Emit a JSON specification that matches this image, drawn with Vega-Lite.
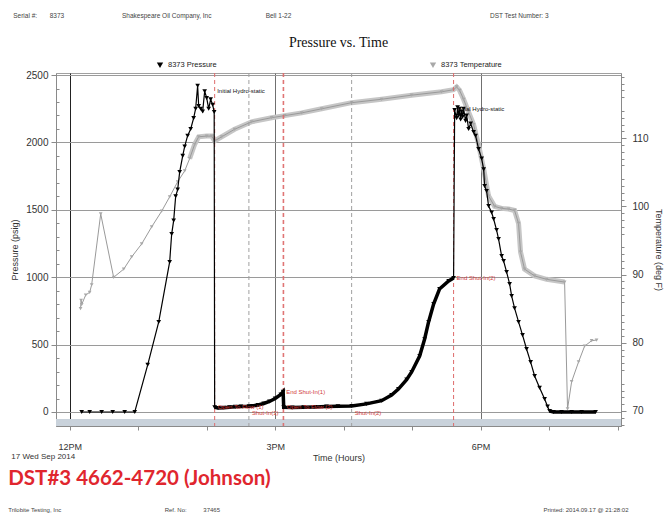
{
  "$schema": "https://vega.github.io/schema/vega-lite/v6.json",
  "background": "white",
  "padding": {"left": 8, "top": 13, "right": 0, "bottom": 0},
  "config": {
    "font": "Liberation Sans",
    "view": {"stroke": "#a0a0a0"},
    "axis": {"labelFont": "Liberation Sans", "titleFont": "Liberation Sans", "labelColor": "#333", "titleColor": "#333", "titleFontWeight": "normal", "domainColor": "#8a8a8a", "tickColor": "#8a8a8a"},
    "concat": {"spacing": 0}
  },
  "datasets": {
    "pressure": [
      {"time": "2014-09-17T12:10:30", "psi": 0, "stage": "running in"},
      {"time": "2014-09-17T12:17:30", "psi": 0, "stage": "running in"},
      {"time": "2014-09-17T12:28:00", "psi": 0, "stage": "running in"},
      {"time": "2014-09-17T12:37:40", "psi": 0, "stage": "running in"},
      {"time": "2014-09-17T12:48:10", "psi": 0, "stage": "running in"},
      {"time": "2014-09-17T12:57:00", "psi": 0, "stage": "running in"},
      {"time": "2014-09-17T13:08:20", "psi": 350, "stage": "running in"},
      {"time": "2014-09-17T13:18:00", "psi": 668, "stage": "running in"},
      {"time": "2014-09-17T13:27:35", "psi": 1113, "stage": "running in"},
      {"time": "2014-09-17T13:29:20", "psi": 1320, "stage": "running in"},
      {"time": "2014-09-17T13:31:05", "psi": 1420, "stage": "running in"},
      {"time": "2014-09-17T13:32:50", "psi": 1600, "stage": "running in"},
      {"time": "2014-09-17T13:34:35", "psi": 1650, "stage": "running in"},
      {"time": "2014-09-17T13:36:20", "psi": 1780, "stage": "running in"},
      {"time": "2014-09-17T13:39:00", "psi": 1900, "stage": "running in"},
      {"time": "2014-09-17T13:40:45", "psi": 1970, "stage": "running in"},
      {"time": "2014-09-17T13:43:20", "psi": 2050, "stage": "running in"},
      {"time": "2014-09-17T13:46:00", "psi": 2100, "stage": "running in"},
      {"time": "2014-09-17T13:48:35", "psi": 2180, "stage": "running in"},
      {"time": "2014-09-17T13:50:20", "psi": 2250, "stage": "initial hydrostatic"},
      {"time": "2014-09-17T13:52:05", "psi": 2420, "stage": "initial hydrostatic"},
      {"time": "2014-09-17T13:53:00", "psi": 2270, "stage": "initial hydrostatic"},
      {"time": "2014-09-17T13:54:45", "psi": 2250, "stage": "initial hydrostatic"},
      {"time": "2014-09-17T13:56:30", "psi": 2230, "stage": "initial hydrostatic"},
      {"time": "2014-09-17T13:58:15", "psi": 2380, "stage": "initial hydrostatic"},
      {"time": "2014-09-17T14:00:00", "psi": 2330, "stage": "initial hydrostatic"},
      {"time": "2014-09-17T14:01:45", "psi": 2250, "stage": "initial hydrostatic"},
      {"time": "2014-09-17T14:03:30", "psi": 2320, "stage": "initial hydrostatic"},
      {"time": "2014-09-17T14:05:15", "psi": 2280, "stage": "initial hydrostatic"},
      {"time": "2014-09-17T14:06:35", "psi": 2225, "stage": "initial hydrostatic"},
      {"time": "2014-09-17T14:07:00", "psi": 35, "stage": "testing"},
      {"time": "2014-09-17T14:10:00", "psi": 30, "stage": "testing"},
      {"time": "2014-09-17T14:15:00", "psi": 32, "stage": "testing"},
      {"time": "2014-09-17T14:20:00", "psi": 35, "stage": "testing"},
      {"time": "2014-09-17T14:25:00", "psi": 38, "stage": "testing"},
      {"time": "2014-09-17T14:30:00", "psi": 40, "stage": "testing"},
      {"time": "2014-09-17T14:37:00", "psi": 42, "stage": "testing"},
      {"time": "2014-09-17T14:40:00", "psi": 45, "stage": "testing"},
      {"time": "2014-09-17T14:45:00", "psi": 52, "stage": "testing"},
      {"time": "2014-09-17T14:50:00", "psi": 63, "stage": "testing"},
      {"time": "2014-09-17T14:55:00", "psi": 78, "stage": "testing"},
      {"time": "2014-09-17T15:00:00", "psi": 100, "stage": "testing"},
      {"time": "2014-09-17T15:05:00", "psi": 130, "stage": "testing"},
      {"time": "2014-09-17T15:07:00", "psi": 150, "stage": "testing"},
      {"time": "2014-09-17T15:07:30", "psi": 35, "stage": "testing"},
      {"time": "2014-09-17T15:15:00", "psi": 33, "stage": "testing"},
      {"time": "2014-09-17T15:25:00", "psi": 35, "stage": "testing"},
      {"time": "2014-09-17T15:35:00", "psi": 37, "stage": "testing"},
      {"time": "2014-09-17T15:45:00", "psi": 40, "stage": "testing"},
      {"time": "2014-09-17T15:55:00", "psi": 42, "stage": "testing"},
      {"time": "2014-09-17T16:07:00", "psi": 45, "stage": "testing"},
      {"time": "2014-09-17T16:20:00", "psi": 60, "stage": "testing"},
      {"time": "2014-09-17T16:33:15", "psi": 84, "stage": "testing"},
      {"time": "2014-09-17T16:42:00", "psi": 125, "stage": "testing"},
      {"time": "2014-09-17T16:48:00", "psi": 170, "stage": "testing"},
      {"time": "2014-09-17T16:55:10", "psi": 240, "stage": "testing"},
      {"time": "2014-09-17T16:59:35", "psi": 297, "stage": "testing"},
      {"time": "2014-09-17T17:06:35", "psi": 415, "stage": "testing"},
      {"time": "2014-09-17T17:10:55", "psi": 540, "stage": "testing"},
      {"time": "2014-09-17T17:14:25", "psi": 668, "stage": "testing"},
      {"time": "2014-09-17T17:18:50", "psi": 801, "stage": "testing"},
      {"time": "2014-09-17T17:24:00", "psi": 912, "stage": "testing"},
      {"time": "2014-09-17T17:32:00", "psi": 972, "stage": "testing"},
      {"time": "2014-09-17T17:36:20", "psi": 994, "stage": "testing"},
      {"time": "2014-09-17T17:37:15", "psi": 2240, "stage": "final hydrostatic"},
      {"time": "2014-09-17T17:39:00", "psi": 2180, "stage": "final hydrostatic"},
      {"time": "2014-09-17T17:39:50", "psi": 2260, "stage": "final hydrostatic"},
      {"time": "2014-09-17T17:40:45", "psi": 2200, "stage": "final hydrostatic"},
      {"time": "2014-09-17T17:41:35", "psi": 2250, "stage": "final hydrostatic"},
      {"time": "2014-09-17T17:42:30", "psi": 2170, "stage": "final hydrostatic"},
      {"time": "2014-09-17T17:43:20", "psi": 2230, "stage": "final hydrostatic"},
      {"time": "2014-09-17T17:44:15", "psi": 2190, "stage": "final hydrostatic"},
      {"time": "2014-09-17T17:45:05", "psi": 2250, "stage": "final hydrostatic"},
      {"time": "2014-09-17T17:46:50", "psi": 2160, "stage": "pulling out"},
      {"time": "2014-09-17T17:47:45", "psi": 2200, "stage": "pulling out"},
      {"time": "2014-09-17T17:49:30", "psi": 2100, "stage": "pulling out"},
      {"time": "2014-09-17T17:51:15", "psi": 2140, "stage": "pulling out"},
      {"time": "2014-09-17T17:53:50", "psi": 2077, "stage": "pulling out"},
      {"time": "2014-09-17T17:55:35", "psi": 2050, "stage": "pulling out"},
      {"time": "2014-09-17T17:58:15", "psi": 1950, "stage": "pulling out"},
      {"time": "2014-09-17T18:00:55", "psi": 1880, "stage": "pulling out"},
      {"time": "2014-09-17T18:02:40", "psi": 1800, "stage": "pulling out"},
      {"time": "2014-09-17T18:03:30", "psi": 1677, "stage": "pulling out"},
      {"time": "2014-09-17T18:05:15", "psi": 1640, "stage": "pulling out"},
      {"time": "2014-09-17T18:07:00", "psi": 1528, "stage": "pulling out"},
      {"time": "2014-09-17T18:09:40", "psi": 1480, "stage": "pulling out"},
      {"time": "2014-09-17T18:11:25", "psi": 1432, "stage": "pulling out"},
      {"time": "2014-09-17T18:14:00", "psi": 1350, "stage": "pulling out"},
      {"time": "2014-09-17T18:15:45", "psi": 1283, "stage": "pulling out"},
      {"time": "2014-09-17T18:18:25", "psi": 1157, "stage": "pulling out"},
      {"time": "2014-09-17T18:20:10", "psi": 1120, "stage": "pulling out"},
      {"time": "2014-09-17T18:22:45", "psi": 1039, "stage": "pulling out"},
      {"time": "2014-09-17T18:25:25", "psi": 950, "stage": "pulling out"},
      {"time": "2014-09-17T18:27:10", "psi": 861, "stage": "pulling out"},
      {"time": "2014-09-17T18:29:45", "psi": 770, "stage": "pulling out"},
      {"time": "2014-09-17T18:33:15", "psi": 668, "stage": "pulling out"},
      {"time": "2014-09-17T18:36:45", "psi": 570, "stage": "pulling out"},
      {"time": "2014-09-17T18:40:15", "psi": 467, "stage": "pulling out"},
      {"time": "2014-09-17T18:43:50", "psi": 370, "stage": "pulling out"},
      {"time": "2014-09-17T18:47:20", "psi": 267, "stage": "pulling out"},
      {"time": "2014-09-17T18:51:40", "psi": 180, "stage": "pulling out"},
      {"time": "2014-09-17T18:56:05", "psi": 96, "stage": "pulling out"},
      {"time": "2014-09-17T18:58:40", "psi": 40, "stage": "pulling out"},
      {"time": "2014-09-17T19:00:25", "psi": 7, "stage": "surface"},
      {"time": "2014-09-17T19:03:55", "psi": 0, "stage": "surface"},
      {"time": "2014-09-17T19:10:55", "psi": 0, "stage": "surface"},
      {"time": "2014-09-17T19:19:45", "psi": 0, "stage": "surface"},
      {"time": "2014-09-17T19:28:30", "psi": 0, "stage": "surface"},
      {"time": "2014-09-17T19:40:45", "psi": 0, "stage": "surface"}
    ],
    "temperature": [
      {"time": "2014-09-17T12:09:30", "degF": 85.0, "stage": "running in"},
      {"time": "2014-09-17T12:10:00", "degF": 86.2, "stage": "running in"},
      {"time": "2014-09-17T12:10:30", "degF": 85.6, "stage": "running in"},
      {"time": "2014-09-17T12:14:00", "degF": 87.0, "stage": "running in"},
      {"time": "2014-09-17T12:17:30", "degF": 87.4, "stage": "running in"},
      {"time": "2014-09-17T12:19:15", "degF": 88.5, "stage": "running in"},
      {"time": "2014-09-17T12:27:10", "degF": 98.9, "stage": "running in"},
      {"time": "2014-09-17T12:38:30", "degF": 89.6, "stage": "running in"},
      {"time": "2014-09-17T12:47:20", "degF": 90.8, "stage": "running in"},
      {"time": "2014-09-17T12:54:20", "degF": 92.6, "stage": "running in"},
      {"time": "2014-09-17T13:03:05", "degF": 94.5, "stage": "running in"},
      {"time": "2014-09-17T13:11:50", "degF": 97.0, "stage": "running in"},
      {"time": "2014-09-17T13:20:35", "degF": 99.3, "stage": "running in"},
      {"time": "2014-09-17T13:27:35", "degF": 101.4, "stage": "running in"},
      {"time": "2014-09-17T13:34:35", "degF": 103.6, "stage": "running in"},
      {"time": "2014-09-17T13:40:45", "degF": 105.2, "stage": "running in"},
      {"time": "2014-09-17T13:45:05", "degF": 107.0, "stage": "in hole"},
      {"time": "2014-09-17T13:49:30", "degF": 109.1, "stage": "in hole"},
      {"time": "2014-09-17T13:53:00", "degF": 110.2, "stage": "in hole"},
      {"time": "2014-09-17T14:00:00", "degF": 110.3, "stage": "in hole"},
      {"time": "2014-09-17T14:04:25", "degF": 110.3, "stage": "in hole"},
      {"time": "2014-09-17T14:07:00", "degF": 109.6, "stage": "in hole"},
      {"time": "2014-09-17T14:13:10", "degF": 110.2, "stage": "in hole"},
      {"time": "2014-09-17T14:24:30", "degF": 111.3, "stage": "in hole"},
      {"time": "2014-09-17T14:39:25", "degF": 112.4, "stage": "in hole"},
      {"time": "2014-09-17T14:56:55", "degF": 113.0, "stage": "in hole"},
      {"time": "2014-09-17T15:08:20", "degF": 113.3, "stage": "in hole"},
      {"time": "2014-09-17T15:23:15", "degF": 113.7, "stage": "in hole"},
      {"time": "2014-09-17T15:40:45", "degF": 114.3, "stage": "in hole"},
      {"time": "2014-09-17T16:07:00", "degF": 115.2, "stage": "in hole"},
      {"time": "2014-09-17T16:33:15", "degF": 115.7, "stage": "in hole"},
      {"time": "2014-09-17T16:59:35", "degF": 116.3, "stage": "in hole"},
      {"time": "2014-09-17T17:25:50", "degF": 116.8, "stage": "in hole"},
      {"time": "2014-09-17T17:36:20", "degF": 117.1, "stage": "in hole"},
      {"time": "2014-09-17T17:39:00", "degF": 117.5, "stage": "in hole"},
      {"time": "2014-09-17T17:41:35", "degF": 117.0, "stage": "in hole"},
      {"time": "2014-09-17T17:45:05", "degF": 115.7, "stage": "in hole"},
      {"time": "2014-09-17T17:49:30", "degF": 113.8, "stage": "in hole"},
      {"time": "2014-09-17T17:53:50", "degF": 112.0, "stage": "in hole"},
      {"time": "2014-09-17T17:58:15", "degF": 109.0, "stage": "in hole"},
      {"time": "2014-09-17T18:02:40", "degF": 105.5, "stage": "in hole"},
      {"time": "2014-09-17T18:07:00", "degF": 101.5, "stage": "in hole"},
      {"time": "2014-09-17T18:12:15", "degF": 100.0, "stage": "in hole"},
      {"time": "2014-09-17T18:18:25", "degF": 99.7, "stage": "in hole"},
      {"time": "2014-09-17T18:24:30", "degF": 99.6, "stage": "in hole"},
      {"time": "2014-09-17T18:29:45", "degF": 99.4, "stage": "in hole"},
      {"time": "2014-09-17T18:33:15", "degF": 97.5, "stage": "in hole"},
      {"time": "2014-09-17T18:35:00", "degF": 93.3, "stage": "in hole"},
      {"time": "2014-09-17T18:38:30", "degF": 90.8, "stage": "in hole"},
      {"time": "2014-09-17T18:47:20", "degF": 89.8, "stage": "in hole"},
      {"time": "2014-09-17T18:57:50", "degF": 89.3, "stage": "in hole"},
      {"time": "2014-09-17T19:13:35", "degF": 88.9, "stage": "in hole"},
      {"time": "2014-09-17T19:16:10", "degF": 70.3, "stage": "surface"},
      {"time": "2014-09-17T19:19:45", "degF": 74.3, "stage": "surface"},
      {"time": "2014-09-17T19:25:50", "degF": 77.2, "stage": "surface"},
      {"time": "2014-09-17T19:31:05", "degF": 79.5, "stage": "surface"},
      {"time": "2014-09-17T19:37:15", "degF": 80.3, "stage": "surface"},
      {"time": "2014-09-17T19:41:35", "degF": 80.4, "stage": "surface"}
    ],
    "events": [
      {"time": "2014-09-17T14:06:35", "psi": 2380, "label": "Initial Hydro-static", "type": "hydrostatic"},
      {"time": "2014-09-17T14:07:00", "psi": 35, "label": "Open To Flow (1)", "type": "open"},
      {"time": "2014-09-17T14:37:00", "psi": 42, "label": "Shut-In(1)", "type": "shut-in"},
      {"time": "2014-09-17T15:07:00", "psi": 150, "label": "End Shut-In(1)", "type": "end shut-in"},
      {"time": "2014-09-17T15:07:30", "psi": 35, "label": "Open To Flow (2)", "type": "open"},
      {"time": "2014-09-17T16:07:00", "psi": 45, "label": "Shut-In(2)", "type": "shut-in"},
      {"time": "2014-09-17T17:36:20", "psi": 994, "label": "End Shut-In(2)", "type": "end shut-in"},
      {"time": "2014-09-17T17:37:15", "psi": 2248, "label": "Final Hydro-static", "type": "hydrostatic"}
    ]
  },
  "resolve": {"scale": {"color": "independent"}, "legend": {"color": "independent"}},
  "title": {
    "text": "DST#3 4662-4720 (Johnson)",
    "subtitle": "Trilobite Testing, Inc\u00a0\u00a0\u00a0\u00a0\u00a0\u00a0\u00a0\u00a0\u00a0\u00a0\u00a0\u00a0\u00a0\u00a0\u00a0\u00a0\u00a0\u00a0\u00a0\u00a0\u00a0\u00a0\u00a0\u00a0\u00a0\u00a0\u00a0\u00a0\u00a0\u00a0\u00a0\u00a0\u00a0\u00a0\u00a0\u00a0\u00a0\u00a0\u00a0\u00a0\u00a0\u00a0\u00a0\u00a0\u00a0\u00a0\u00a0\u00a0\u00a0\u00a0\u00a0\u00a0\u00a0\u00a0\u00a0\u00a0\u00a0\u00a0\u00a0\u00a0\u00a0\u00a0Ref. No:\u00a0\u00a0\u00a0\u00a0\u00a0\u00a0\u00a0\u00a0\u00a0\u00a037465\u00a0\u00a0\u00a0\u00a0\u00a0\u00a0\u00a0\u00a0\u00a0\u00a0\u00a0\u00a0\u00a0\u00a0\u00a0\u00a0\u00a0\u00a0\u00a0\u00a0\u00a0\u00a0\u00a0\u00a0\u00a0\u00a0\u00a0\u00a0\u00a0\u00a0\u00a0\u00a0\u00a0\u00a0\u00a0\u00a0\u00a0\u00a0\u00a0\u00a0\u00a0\u00a0\u00a0\u00a0\u00a0\u00a0\u00a0\u00a0\u00a0\u00a0\u00a0\u00a0\u00a0\u00a0\u00a0\u00a0\u00a0\u00a0\u00a0\u00a0\u00a0\u00a0\u00a0\u00a0\u00a0\u00a0\u00a0\u00a0\u00a0\u00a0\u00a0\u00a0\u00a0\u00a0\u00a0\u00a0\u00a0\u00a0\u00a0\u00a0\u00a0\u00a0\u00a0\u00a0\u00a0\u00a0\u00a0\u00a0\u00a0\u00a0\u00a0\u00a0\u00a0\u00a0\u00a0\u00a0\u00a0\u00a0\u00a0\u00a0\u00a0\u00a0\u00a0\u00a0\u00a0\u00a0\u00a0\u00a0\u00a0\u00a0\u00a0\u00a0\u00a0\u00a0\u00a0\u00a0\u00a0\u00a0\u00a0\u00a0\u00a0\u00a0\u00a0\u00a0\u00a0\u00a0\u00a0\u00a0\u00a0\u00a0\u00a0\u00a0\u00a0\u00a0\u00a0\u00a0\u00a0\u00a0\u00a0\u00a0\u00a0\u00a0\u00a0\u00a0\u00a0\u00a0\u00a0\u00a0\u00a0\u00a0\u00a0\u00a0\u00a0\u00a0\u00a0\u00a0\u00a0\u00a0\u00a0\u00a0\u00a0\u00a0\u00a0\u00a0\u00a0\u00a0\u00a0\u00a0\u00a0\u00a0\u00a0\u00a0\u00a0\u00a0\u00a0\u00a0\u00a0\u00a0\u00a0\u00a0\u00a0\u00a0\u00a0\u00a0\u00a0\u00a0\u00a0\u00a0\u00a0\u00a0\u00a0\u00a0\u00a0\u00a0Printed: 2014.09.17 @ 21:28:02",
    "orient": "bottom",
    "anchor": "start",
    "frame": "bounds",
    "font": "Lato",
    "fontSize": 20.5,
    "fontWeight": "bold",
    "color": "#e0262e",
    "subtitleFont": "Liberation Sans",
    "subtitleFontSize": 6,
    "subtitleColor": "#444",
    "subtitlePadding": 18,
    "offset": 6,
    "dx": -2
  },
  "vconcat": [
    {
      "resolve": {"scale": {"color": "independent"}, "legend": {"color": "independent"}},
      "title": {
        "text": "Serial #:\u00a0\u00a0\u00a0\u00a0\u00a0\u00a0\u00a08373\u00a0\u00a0\u00a0\u00a0\u00a0\u00a0\u00a0\u00a0\u00a0\u00a0\u00a0\u00a0\u00a0\u00a0\u00a0\u00a0\u00a0\u00a0\u00a0\u00a0\u00a0\u00a0\u00a0\u00a0\u00a0\u00a0\u00a0\u00a0\u00a0\u00a0\u00a0\u00a0Shakespeare Oil Company, Inc\u00a0\u00a0\u00a0\u00a0\u00a0\u00a0\u00a0\u00a0\u00a0\u00a0\u00a0\u00a0\u00a0\u00a0\u00a0\u00a0\u00a0\u00a0\u00a0\u00a0\u00a0\u00a0\u00a0\u00a0\u00a0\u00a0\u00a0\u00a0\u00a0\u00a0Bell 1-22\u00a0\u00a0\u00a0\u00a0\u00a0\u00a0\u00a0\u00a0\u00a0\u00a0\u00a0\u00a0\u00a0\u00a0\u00a0\u00a0\u00a0\u00a0\u00a0\u00a0\u00a0\u00a0\u00a0\u00a0\u00a0\u00a0\u00a0\u00a0\u00a0\u00a0\u00a0\u00a0\u00a0\u00a0\u00a0\u00a0\u00a0\u00a0\u00a0\u00a0\u00a0\u00a0\u00a0\u00a0\u00a0\u00a0\u00a0\u00a0\u00a0\u00a0\u00a0\u00a0\u00a0\u00a0\u00a0\u00a0\u00a0\u00a0\u00a0\u00a0\u00a0\u00a0\u00a0\u00a0\u00a0\u00a0\u00a0\u00a0\u00a0\u00a0\u00a0\u00a0\u00a0\u00a0\u00a0\u00a0\u00a0\u00a0\u00a0\u00a0\u00a0\u00a0\u00a0\u00a0\u00a0\u00a0\u00a0\u00a0\u00a0\u00a0\u00a0\u00a0\u00a0\u00a0\u00a0\u00a0\u00a0\u00a0\u00a0\u00a0\u00a0\u00a0\u00a0\u00a0\u00a0\u00a0\u00a0\u00a0\u00a0\u00a0DST Test Number: 3",
        "anchor": "start",
        "frame": "bounds",
        "font": "Liberation Sans",
        "fontSize": 6.5,
        "fontWeight": "normal",
        "color": "#444",
        "offset": 16,
        "dx": 3
      },
      "vconcat": [
        {
          "width": 565,
          "height": 353,
          "title": {"text": "Pressure vs. Time", "font": "Liberation Serif", "fontSize": 14, "fontWeight": "normal", "color": "#111", "anchor": "middle", "frame": "group", "offset": 11},
          "resolve": {"scale": {"y": "independent"}, "axis": {"x": "independent"}},
          "layer": [
            {
              "data": {"name": "pressure"},
              "mark": {"type": "point", "opacity": 0},
              "encoding": {
                "x": {"field": "time", "type": "temporal", "axis": null},
                "y": {"field": "psi", "type": "quantitative", "scale": {"domain": [-104, 2515], "nice": false, "zero": false},
                  "axis": {"orient": "left", "values": [-100, 100, 200, 300, 400, 600, 700, 800, 900, 1100, 1200, 1300, 1400, 1600, 1700, 1800, 1900, 2100, 2200, 2300, 2400], "labels": false, "domain": false, "grid": false, "tickSize": -3, "title": null}}
              }
            },
            {
              "data": {"name": "temperature"},
              "mark": {"type": "point", "opacity": 0},
              "encoding": {
                "x": {"field": "time", "type": "temporal", "axis": null},
                "y": {"field": "degF", "type": "quantitative", "scale": {"domain": [67.8, 119.55], "nice": false, "zero": false},
                  "axis": {"orient": "right", "values": [68, 69, 71, 72, 73, 74, 76, 77, 78, 79, 81, 82, 83, 84, 86, 87, 88, 89, 91, 92, 93, 94, 96, 97, 98, 99, 101, 102, 103, 104, 106, 107, 108, 109, 111, 112, 113, 114, 116, 117, 118, 119], "labels": false, "domain": false, "grid": false, "tickSize": 3, "title": null}}
              }
            },
            {
              "layer": [
                {
                  "data": {"name": "temperature"},
                  "transform": [{"filter": {"field": "stage", "equal": "in hole"}}],
                  "mark": {"type": "line", "color": "#c6c6c6", "strokeWidth": 5},
                  "encoding": {
                    "x": {"field": "time", "type": "temporal",
                      "axis": {"orient": "bottom", "values": [{"year": 2014, "month": 9, "date": 17, "hours": 12}], "labelExpr": "'17 Wed Sep 2014'", "ticks": false, "domain": false, "grid": false, "labelPadding": 26, "labelAlign": "right", "labelOffset": 5, "labelFontSize": 8, "labelFlush": false, "labelBound": false, "labelOverlap": false, "title": null}},
                    "y": {"field": "degF", "type": "quantitative", "scale": {"domain": [67.8, 119.55], "nice": false, "zero": false},
                      "axis": {"orient": "right", "values": [70, 75, 80, 85, 90, 95, 100, 105, 110, 115], "title": "Temperature (deg F)", "titleAngle": 90, "grid": false, "tickSize": 5, "labelPadding": 6, "labelFontSize": 10, "labelOverlap": false, "titleFontSize": 9, "titlePadding": 5}}
                  }
                },
                {
                  "data": {"name": "temperature"},
                  "mark": {"type": "line", "color": "#9a9a9a", "strokeWidth": 1},
                  "encoding": {
                    "x": {"field": "time", "type": "temporal"},
                    "y": {"field": "degF", "type": "quantitative"}
                  }
                },
                {
                  "data": {"name": "temperature"},
                  "mark": {"type": "point", "shape": "triangle-down", "filled": true, "size": 14, "opacity": 1},
                  "encoding": {
                    "x": {"field": "time", "type": "temporal"},
                    "y": {"field": "degF", "type": "quantitative"},
                    "color": {"datum": "8373 Temperature"}
                  }
                }
              ]
            },
            {
              "layer": [
                {
                  "data": {"name": "pressure"},
                  "transform": [{"aggregate": [{"op": "count", "as": "n"}]}],
                  "mark": {"type": "rect", "color": "#c9d2db"},
                  "encoding": {"y": {"datum": -104}, "y2": {"datum": -52}}
                },
                {
                  "data": {"name": "events"},
                  "transform": [{"filter": "datum.type != 'hydrostatic'"}],
                  "mark": {"type": "rule", "strokeDash": [4, 3], "strokeWidth": 1},
                  "encoding": {
                    "x": {"field": "time", "type": "temporal"},
                    "stroke": {"field": "type", "type": "nominal", "scale": {"domain": ["open", "shut-in", "end shut-in"], "range": ["#de6b6b", "#a0a0a0", "#de6b6b"]}, "legend": null}
                  }
                },
                {
                  "data": {"name": "pressure"},
                  "mark": {"type": "line", "color": "#000", "strokeWidth": 1.2},
                  "encoding": {
                    "x": {"field": "time", "type": "temporal",
                      "scale": {"domain": [{"year": 2014, "month": 9, "date": 17, "hours": 11, "minutes": 48}, {"year": 2014, "month": 9, "date": 17, "hours": 20, "minutes": 3}]},
                      "axis": {"orient": "bottom",
                        "values": [
                          {"year": 2014, "month": 9, "date": 17, "hours": 12},
                          {"year": 2014, "month": 9, "date": 17, "hours": 13},
                          {"year": 2014, "month": 9, "date": 17, "hours": 14},
                          {"year": 2014, "month": 9, "date": 17, "hours": 15},
                          {"year": 2014, "month": 9, "date": 17, "hours": 16},
                          {"year": 2014, "month": 9, "date": 17, "hours": 17},
                          {"year": 2014, "month": 9, "date": 17, "hours": 18},
                          {"year": 2014, "month": 9, "date": 17, "hours": 19},
                          {"year": 2014, "month": 9, "date": 17, "hours": 20}
                        ],
                        "labelExpr": "hours(datum.value) % 3 == 0 ? timeFormat(datum.value, '%-I%p') : ''",
                        "grid": true,
                        "gridColor": {"condition": {"test": "hours(datum.value) == 12", "value": "#222222"}, "value": "#707070"},
                        "gridOpacity": {"condition": {"test": "hours(datum.value) % 3 == 0", "value": 1}, "value": 0},
                        "tickSize": 4, "labelPadding": 12, "labelFontSize": 9, "labelFlush": false, "labelOverlap": false,
                        "title": "Time (Hours)", "titleFontSize": 9, "titlePadding": 2}},
                    "y": {"field": "psi", "type": "quantitative", "scale": {"domain": [-104, 2515], "nice": false, "zero": false},
                      "axis": {"orient": "left", "values": [0, 500, 1000, 1500, 2000, 2500], "format": "d", "title": "Pressure (psig)", "grid": true, "gridColor": "#9a9a9a", "tickSize": 5, "labelPadding": 3, "labelFontSize": 10, "titleFontSize": 9, "titlePadding": 6}}
                  }
                },
                {
                  "data": {"name": "pressure"},
                  "transform": [{"filter": {"field": "stage", "oneOf": ["testing", "surface"]}}],
                  "mark": {"type": "line", "color": "#000", "strokeWidth": 3.5},
                  "encoding": {
                    "x": {"field": "time", "type": "temporal"},
                    "y": {"field": "psi", "type": "quantitative"},
                    "detail": {"field": "stage"}
                  }
                },
                {
                  "data": {"name": "pressure"},
                  "mark": {"type": "point", "shape": "triangle-down", "filled": true, "size": 22, "opacity": 1},
                  "encoding": {
                    "x": {"field": "time", "type": "temporal"},
                    "y": {"field": "psi", "type": "quantitative"},
                    "color": {"datum": "8373 Pressure",
                      "scale": {"domain": ["8373 Pressure", "8373 Temperature"], "range": ["#000000", "#a8a8a8"]},
                      "legend": {"orient": "top", "direction": "horizontal", "title": null, "symbolType": "triangle-down", "symbolSize": 40, "labelFontSize": 7.5, "labelColor": "#222", "columnPadding": 112, "symbolOffset": 100, "offset": 4}}
                  }
                },
                {
                  "data": {"name": "events"},
                  "transform": [{"filter": "datum.type != 'shut-in'"}],
                  "mark": {"type": "text", "align": "left", "baseline": "middle", "dx": 3, "fontSize": 6},
                  "encoding": {
                    "x": {"field": "time", "type": "temporal"},
                    "y": {"field": "psi", "type": "quantitative"},
                    "text": {"field": "label"},
                    "fill": {"field": "type", "type": "nominal", "scale": {"domain": ["hydrostatic", "open", "shut-in", "end shut-in"], "range": ["#111111", "#d23c3c", "#d23c3c", "#d23c3c"]}, "legend": null}
                  }
                },
                {
                  "data": {"name": "events"},
                  "transform": [{"filter": "datum.type == 'shut-in'"}],
                  "mark": {"type": "text", "align": "left", "baseline": "top", "dx": 3, "dy": 4, "fontSize": 6},
                  "encoding": {
                    "x": {"field": "time", "type": "temporal"},
                    "y": {"field": "psi", "type": "quantitative"},
                    "text": {"field": "label"},
                    "fill": {"field": "type", "type": "nominal"}
                  }
                }
              ]
            }
          ]
        }
      ]
    }
  ]
}
